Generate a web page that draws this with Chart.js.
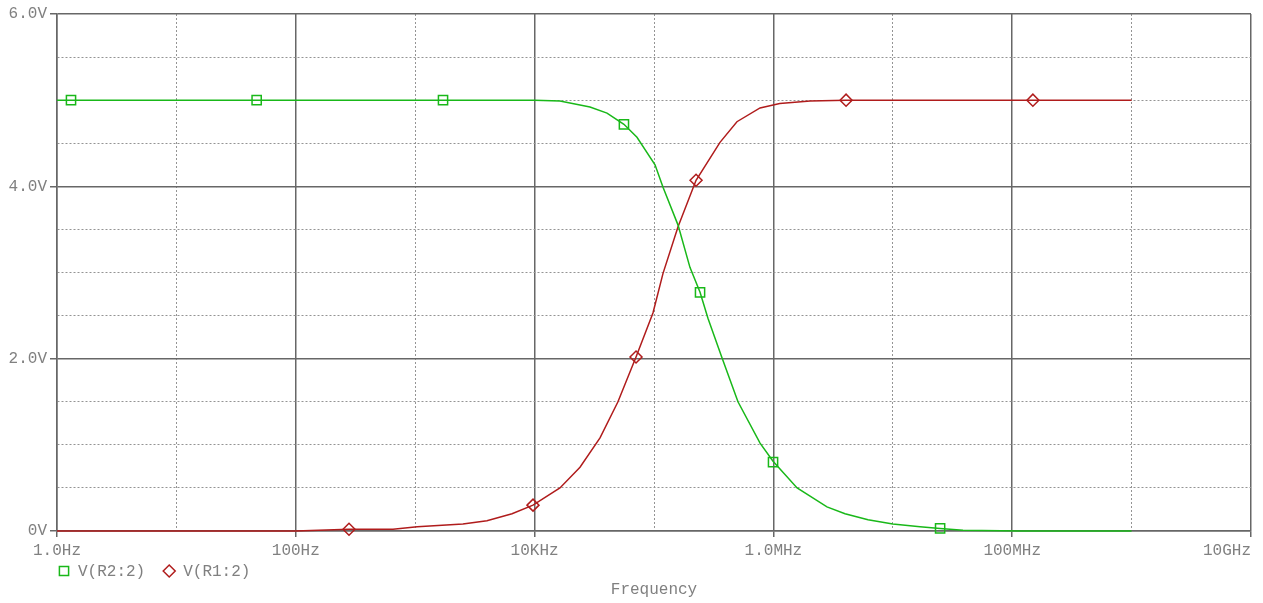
<!DOCTYPE html>
<html>
<head>
<meta charset="utf-8">
<script src="https://cdn.jsdelivr.net/npm/chart.js@4.4.1/dist/chart.umd.min.js"></script>
<style>
  body { margin: 0; background: #fff; }
  canvas { display: block; }
</style>
</head>
<body>
<canvas id="bodeChart" width="1263" height="603"></canvas>
<script>
// values (Hz, V)
const greenFreq = [1, 100, 1000, 10000, 16300, 29100, 40400, 56000, 72000, 102000, 119000, 159000, 200000, 243000, 283000, 371000, 505000, 773000, 993000, 1580000, 2810000, 3980000, 6200000, 10000000, 16900000, 24900000, 38700000, 116000000, 1000000000];
const greenVolt = [5.0, 5.0, 5.0, 5.0, 4.99, 4.92, 4.85, 4.72, 4.57, 4.25, 3.99, 3.55, 3.06, 2.77, 2.47, 2.01, 1.50, 1.02, 0.81, 0.50, 0.28, 0.20, 0.13, 0.08, 0.05, 0.03, 0.01, 0.0, 0.0];
const redFreq = [1, 100, 279, 652, 1040, 2510, 3990, 6470, 9700, 16300, 24000, 35300, 49900, 70700, 98000, 119000, 159000, 225000, 357000, 495000, 773000, 1130000, 2030000, 4060000, 1000000000];
const redVolt = [0, 0, 0.02, 0.02, 0.05, 0.08, 0.12, 0.20, 0.30, 0.50, 0.74, 1.08, 1.50, 2.02, 2.53, 2.99, 3.53, 4.07, 4.51, 4.75, 4.91, 4.96, 4.99, 5.0, 5.0];

// symbol markers along each trace
const greenMarkFreq = [1.31, 47, 1710, 56000, 243000, 993000, 24900000];
const greenMarkVolt = [5.0, 5.0, 5.0, 4.72, 2.77, 0.80, 0.03];
const redMarkFreq = [279, 9700, 70700, 225000, 4060000, 149000000];
const redMarkVolt = [0.02, 0.30, 2.02, 4.07, 5.0, 5.0];

const seriesNames = ['V(R2:2)', 'V(R1:2)'];
const xTickValues = [1, 10, 100, 1e3, 1e4, 1e5, 1e6, 1e7, 1e8, 1e9, 1e10];
const xTickLabels = ['1.0Hz', '', '100Hz', '', '10KHz', '', '1.0MHz', '', '100MHz', '', '10GHz'];
const yTickLabels = { 0: '0V', 2: '2.0V', 4: '4.0V', 6: '6.0V' };

const GREEN = '#19b819';
const RED = '#b01c1c';
const TEXT = '#808080';
const SOLID = '#676767';
const DOTTED = '#949494';
const FONT = { family: "'Liberation Mono', 'DejaVu Sans Mono', monospace", size: 16 };

const toPoints = (xs, ys) => xs.map((x, i) => ({ x: x, y: ys[i] }));

const isMajorX = v => xTickLabels[xTickValues.indexOf(v)] !== '';
const isMajorY = v => yTickLabels[v] !== undefined;

// legend drawn under the tick labels, above the axis title
const bottomLegend = {
  id: 'bottomLegend',
  afterDraw(chart) {
    const c = chart.ctx;
    const y = 571;
    let x = chart.chartArea.left + 7;
    c.save();
    c.font = `${FONT.size}px ${FONT.family}`;
    c.textBaseline = 'middle';
    [2, 3].forEach(i => {
      const ds = chart.data.datasets[i];
      c.fillStyle = '#fff';
      c.strokeStyle = ds.borderColor;
      c.lineWidth = ds.pointBorderWidth;
      Chart.helpers.drawPoint(c, {
        pointStyle: ds.pointStyle,
        radius: ds.pointRadius,
        borderWidth: ds.pointBorderWidth
      }, x, y);
      c.fillStyle = TEXT;
      c.fillText(ds.label, x + 14, y + 1);
      x += 14 + c.measureText(ds.label).width + 24;
    });
    c.restore();
  }
};

const ctx = document.getElementById('bodeChart').getContext('2d');
const bodeChart = new Chart(ctx, {
  type: 'line',
  data: {
    datasets: [
      { label: seriesNames[0] + ' trace', data: toPoints(greenFreq, greenVolt), borderColor: GREEN, borderWidth: 1.5, pointRadius: 0, tension: 0, clip: false },
      { label: seriesNames[1] + ' trace', data: toPoints(redFreq, redVolt), borderColor: RED, borderWidth: 1.5, pointRadius: 0, tension: 0, clip: false },
      { label: seriesNames[0], data: toPoints(greenMarkFreq, greenMarkVolt), showLine: false, pointStyle: 'rect', pointRadius: 6.5, pointBorderWidth: 1.5, borderColor: GREEN, pointBackgroundColor: 'rgba(0,0,0,0)', clip: false },
      { label: seriesNames[1], data: toPoints(redMarkFreq, redMarkVolt), showLine: false, pointStyle: 'rectRot', pointRadius: 6, pointBorderWidth: 1.5, borderColor: RED, pointBackgroundColor: 'rgba(0,0,0,0)', clip: false }
    ]
  },
  options: {
    responsive: false,
    animation: false,
    events: [],
    layout: { padding: { top: 14, right: 12, left: 0, bottom: 0 } },
    plugins: {
      legend: { display: false },
      tooltip: { enabled: false }
    },
    scales: {
      x: {
        type: 'logarithmic',
        min: 1,
        max: 1e10,
        afterBuildTicks: scale => { scale.ticks = xTickValues.map(v => ({ value: v })); },
        afterFit: scale => { scale.height = 72; scale.paddingRight = 0; scale.paddingLeft = 0; },
        ticks: {
          autoSkip: false,
          maxRotation: 0,
          color: TEXT,
          font: FONT,
          padding: 4,
          callback: (v, i) => {
            const lab = xTickLabels[i];
            // last label sits flush with the right edge
            return i === xTickLabels.length - 1 ? lab + ' '.repeat(lab.length) : lab;
          }
        },
        grid: {
          color: c => isMajorX(c.tick.value) ? SOLID : DOTTED,
          lineWidth: c => isMajorX(c.tick.value) ? 1.5 : 1,
          tickColor: c => isMajorX(c.tick.value) ? SOLID : 'rgba(0,0,0,0)',
          tickLength: 6
        },
        border: { display: true, color: SOLID, width: 1.5, dash: c => (c.tick && !isMajorX(c.tick.value)) ? [2, 2] : [] },
        title: { display: true, text: 'Frequency', color: TEXT, font: FONT, padding: { top: 0, bottom: 4 } }
      },
      y: {
        min: 0,
        max: 6,
        afterFit: scale => { scale.width = 57; },
        ticks: {
          stepSize: 0.5,
          color: TEXT,
          font: FONT,
          padding: 3,
          callback: v => yTickLabels[v] !== undefined ? yTickLabels[v] : ''
        },
        grid: {
          color: c => isMajorY(c.tick.value) ? SOLID : DOTTED,
          lineWidth: c => isMajorY(c.tick.value) ? 1.5 : 1,
          tickColor: c => isMajorY(c.tick.value) ? SOLID : 'rgba(0,0,0,0)',
          tickLength: 7
        },
        border: { display: true, color: SOLID, width: 1.5, dash: c => (c.tick && !isMajorY(c.tick.value)) ? [2, 2] : [] }
      }
    }
  },
  plugins: [bottomLegend]
});
</script>
</body>
</html>
